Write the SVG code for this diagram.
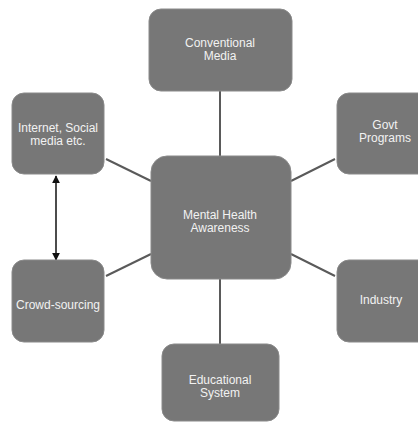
<svg xmlns="http://www.w3.org/2000/svg" width="418" height="423" viewBox="0 0 418 423">
<defs>
<style>
.n{fill:#777777;stroke:#8a8a8a;stroke-width:1}
.t{font-family:"Liberation Sans",Arial,sans-serif;font-size:12px;fill:#f2f2f2;text-anchor:middle}
.c{stroke:#5a5a5a;stroke-width:2;fill:none}
.a{stroke:#111;stroke-width:1.5;fill:none}
</style>
<marker id="ah" viewBox="0 0 10 10" refX="9" refY="5" markerWidth="8" markerHeight="8" markerUnits="userSpaceOnUse" orient="auto-start-reverse">
<path d="M0,0 L10,5 L0,10 z" fill="#111"/>
</marker>
</defs>
<rect width="418" height="423" fill="#ffffff"/>
<g id="connectors">
<line class="c" x1="220" y1="91" x2="220" y2="156"/>
<line class="c" x1="220" y1="279" x2="220" y2="344"/>
<line class="c" x1="106" y1="159" x2="151" y2="181"/>
<line class="c" x1="335" y1="159" x2="291" y2="181"/>
<line class="c" x1="106" y1="276" x2="151" y2="254"/>
<line class="c" x1="335" y1="276" x2="291" y2="254"/>
<line class="a" x1="56" y1="176" x2="56" y2="260" marker-start="url(#ah)" marker-end="url(#ah)"/>
</g>
<g id="conventional-media">
<rect class="n" x="149" y="9" width="143" height="82" rx="12"/>
<text class="t" x="220" y="47">Conventional</text>
<text class="t" x="220" y="60">Media</text>
</g>
<g id="internet">
<rect class="n" x="12" y="93" width="92" height="81" rx="12"/>
<text class="t" x="58" y="132">Internet, Social</text>
<text class="t" x="58" y="145">media etc.</text>
</g>
<g id="govt">
<rect class="n" x="337" y="93" width="95" height="81" rx="12"/>
<text class="t" x="385" y="129">Govt</text>
<text class="t" x="385" y="142">Programs</text>
</g>
<g id="mental-health">
<rect class="n" x="151" y="156" width="140" height="123" rx="16"/>
<text class="t" x="220" y="219">Mental Health</text>
<text class="t" x="220" y="232">Awareness</text>
</g>
<g id="crowd-sourcing">
<rect class="n" x="12" y="260" width="92" height="82" rx="12"/>
<text class="t" x="58" y="309">Crowd-sourcing</text>
</g>
<g id="industry">
<rect class="n" x="337" y="260" width="95" height="82" rx="12"/>
<text class="t" x="381" y="304">Industry</text>
</g>
<g id="educational-system">
<rect class="n" x="162" y="344" width="117" height="77" rx="12"/>
<text class="t" x="220" y="384">Educational</text>
<text class="t" x="220" y="397">System</text>
</g>
</svg>
